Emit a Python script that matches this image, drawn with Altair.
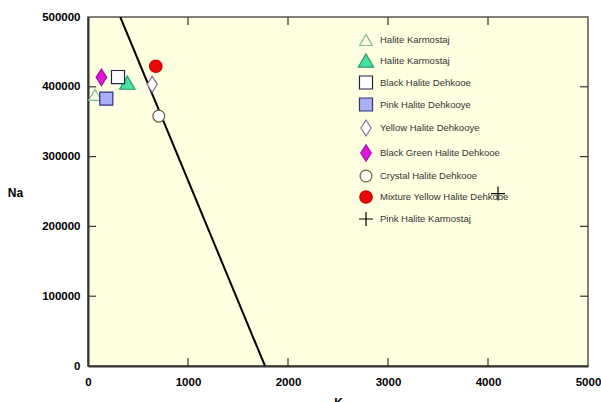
import altair as alt
import pandas as pd

# Sample series (legend order) and their K / Na concentrations
series = [
    "Halite  Karmostaj",
    "Halite  Karmostaj ",
    "Black Halite Dehkooe",
    "Pink Halite Dehkooye",
    "Yellow Halite Dehkooye",
    "Black Green Halite Dehkooe",
    "Crystal Halite Dehkooe",
    "Mixture Yellow Halite Dehkooe",
    "Pink Halite Karmostaj",
]
k_values = [70, 393, 300, 183, 642, 134, 708, 678, 4100]
na_values = [388500, 406000, 414000, 383000, 403500, 413600, 358000, 429500, 247000]

# Marker styling per series
diamond = "M0,-1L0.64,0L0,1L-0.64,0Z"
plus = "M-1,0H1M0,-1V1"
shapes = [
    "triangle-up", "triangle-up", "square", "square",
    diamond, diamond, "circle", "circle", plus,
]
fills = ["#FEFEE6", "#45E3A2", "white", "#AAB0F4", "white", "#E015DC", "white", "#EE0606", "transparent"]
strokes = ["#7FB890", "#2E9A6C", "#22224A", "#30307C", "#8A6E9C", "#A010A0", "#7A5C3C", "#C80000", "black"]
sizes = [160, 235, 170, 170, 255, 270, 140, 155, 196]

# Dividing line
line_k = [323, 1770]
line_na = [500000, 0]

# Axis tick values
x_labels = [0, 1000, 2000, 3000, 4000, 5000]
y_labels = [0, 100000, 200000, 300000, 400000, 500000]
x_inner_ticks = [1000, 2000, 3000, 4000]
y_inner_ticks = [100000, 200000, 300000, 400000]

W, H = 500, 349
TICK = 8
FONT = "Liberation Sans"

points = pd.DataFrame({"series": series, "K": k_values, "Na": na_values})
line_df = pd.DataFrame({"K": line_k, "Na": line_na})
xt = pd.DataFrame({"K": x_inner_ticks})
yt = pd.DataFrame({"Na": y_inner_ticks})

x_scale = alt.Scale(domain=[0, 5000], nice=False, zero=False)
y_scale = alt.Scale(domain=[0, 500000], nice=False, zero=False)

x_axis = alt.Axis(
    values=x_labels, title="K", ticks=False, grid=False, labelFlush=False,
    labelPadding=10, format="d", titleX=W / 2, titleY=31,
    titleAlign="center", titleBaseline="top",
)
y_axis = alt.Axis(
    values=y_labels, title="Na", ticks=False, grid=False, labelFlush=False,
    labelPadding=8, format="d", titleAngle=0, titleX=-73, titleY=175,
    titleAlign="center", titleBaseline="middle",
)

X = alt.X("K:Q", scale=x_scale, axis=x_axis)
Y = alt.Y("Na:Q", scale=y_scale, axis=y_axis)

legend = alt.Legend(
    title=None, orient="none", legendX=269, legendY=16, padding=0,
    labelFont=FONT, labelFontSize=9.5, labelColor="#333333", labelLimit=250,
    labelOffset=5, rowPadding=3, symbolStrokeWidth=1.2,
)

pts = alt.Chart(points).mark_point(filled=True, opacity=1, strokeWidth=1.2).encode(
    x=X,
    y=Y,
    shape=alt.Shape("series:N", scale=alt.Scale(domain=series, range=shapes), legend=legend),
    fill=alt.Fill("series:N", scale=alt.Scale(domain=series, range=fills)),
    stroke=alt.Stroke("series:N", scale=alt.Scale(domain=series, range=strokes)),
    size=alt.Size("series:N", scale=alt.Scale(type="ordinal", domain=series, range=sizes)),
)

line = alt.Chart(line_df).mark_line(color="black", strokeWidth=2, clip=True).encode(x=X, y=Y)

# Inward-pointing ticks on all four sides
bottom_ticks = alt.Chart(xt).mark_rule(color="#333333", strokeWidth=1.2).encode(
    x=X, y=alt.value(H - TICK), y2=alt.value(H))
top_ticks = alt.Chart(xt).mark_rule(color="#333333", strokeWidth=1.2).encode(
    x=X, y=alt.value(0), y2=alt.value(TICK))
left_ticks = alt.Chart(yt).mark_rule(color="#333333", strokeWidth=1.2).encode(
    y=Y, x=alt.value(0), x2=alt.value(TICK))
right_ticks = alt.Chart(yt).mark_rule(color="#333333", strokeWidth=1.2).encode(
    y=Y, x=alt.value(W - TICK), x2=alt.value(W))

chart = (
    alt.layer(bottom_ticks, top_ticks, left_ticks, right_ticks, line, pts)
    .properties(
        width=W, height=H, background="white",
        autosize=alt.AutoSizeParams(type="none"),
        padding={"left": 88, "top": 17, "right": 13, "bottom": 36},
    )
    .configure_view(fill="#FFFFE2", stroke="#555555", strokeWidth=1.5)
    .configure_axis(
        domainColor="#333333", domainWidth=2,
        labelFont=FONT, labelFontSize=11.5, labelFontWeight="bold", labelColor="black",
        titleFont=FONT, titleFontSize=12, titleFontWeight="bold", titleColor="black",
    )
)

chart.save("out.html", embed_options={"renderer": "svg", "actions": False})
